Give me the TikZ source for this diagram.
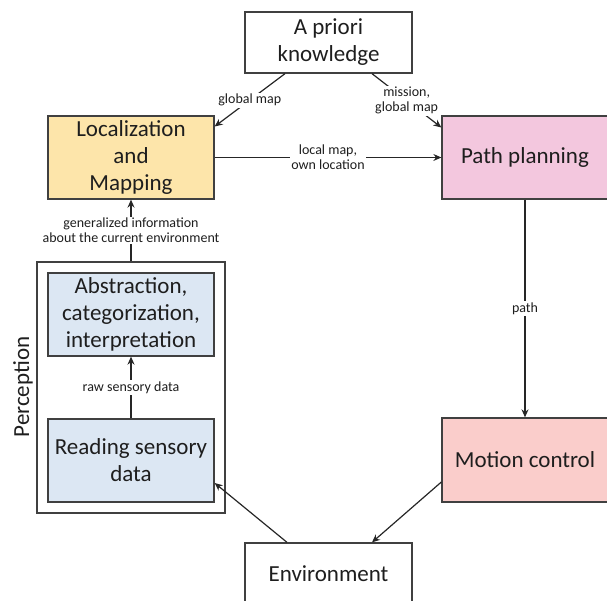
\documentclass[tikz,border=0pt]{standalone}
\usepackage{fontspec}
\setmainfont{Carlito}
\usetikzlibrary{arrows.meta}
\definecolor{boxline}{RGB}{64,64,64}
\definecolor{txt}{RGB}{30,30,30}
\definecolor{locfill}{RGB}{253,229,170}
\definecolor{pathfill}{RGB}{243,199,222}
\definecolor{motionfill}{RGB}{250,205,203}
\definecolor{percfill}{RGB}{220,231,243}
\begin{document}
\begin{tikzpicture}[x=1pt,y=-1pt,
  box/.style={draw=boxline, line width=1.3pt, rectangle, inner sep=0pt,
    align=center, font=\fontsize{23}{27}\selectfont, text=txt},
  arr/.style={draw=black!85, line width=1.2pt, -{Stealth[length=8pt,width=7pt]}},
  lbl/.style={fill=white, inner sep=1.5pt, align=center,
    font=\fontsize{14}{15}\selectfont, text=txt}]
\useasboundingbox (0,0) rectangle (607,601);

% top-level blocks
\node[box, minimum width=167pt, minimum height=61pt] (apriori) at (328.5,42.5) {A priori\\knowledge};
\node[box, fill=locfill, minimum width=166pt, minimum height=83pt] (loc) at (131,157.5) {Localization\\and\\Mapping};
\node[box, fill=pathfill, minimum width=166pt, minimum height=83pt] (path) at (525,157.5) {Path planning};
\node[box, fill=motionfill, minimum width=166pt, minimum height=84pt] (motion) at (525,460) {Motion control};
\node[box, minimum width=167pt, minimum height=61pt] (env) at (328.5,573.5) {Environment};

% perception group
\node[box, minimum width=188pt, minimum height=251pt] (percep) at (131,387.5) {};
\node[font=\fontsize{23}{27}\selectfont, text=txt, rotate=90] (perclabel) at (23,387) {Perception};
\node[box, fill=percfill, minimum width=166pt, minimum height=83pt] (abs) at (131,314.5) {Abstraction,\\categorization,\\interpretation};
\node[box, fill=percfill, minimum width=166pt, minimum height=83pt] (read) at (131,460.5) {Reading sensory\\data};

% information flow
\draw[arr] ([xshift=-43.5pt]apriori.south) -- node[lbl]{global map} ([yshift=31pt]loc.east);
\draw[arr] ([xshift=43.5pt]apriori.south) -- node[lbl]{mission,\\global map} ([yshift=30pt]path.west);
\draw[arr] (loc.east) -- node[lbl]{local map,\\own location} (path.west);
\draw[arr] (path.south) -- node[lbl]{path} (motion.north);
\draw[arr] ([yshift=-22pt]motion.west) -- ([xshift=43.5pt]env.north);
\draw[arr] ([xshift=-41.5pt]env.north) -- ([yshift=-22.5pt]read.east);
\draw[arr] (read.north) -- node[lbl]{raw sensory data} (abs.south);
\draw[arr] (percep.north) -- node[lbl]{generalized information\\about the current environment} (loc.south);
\end{tikzpicture}
\end{document}
